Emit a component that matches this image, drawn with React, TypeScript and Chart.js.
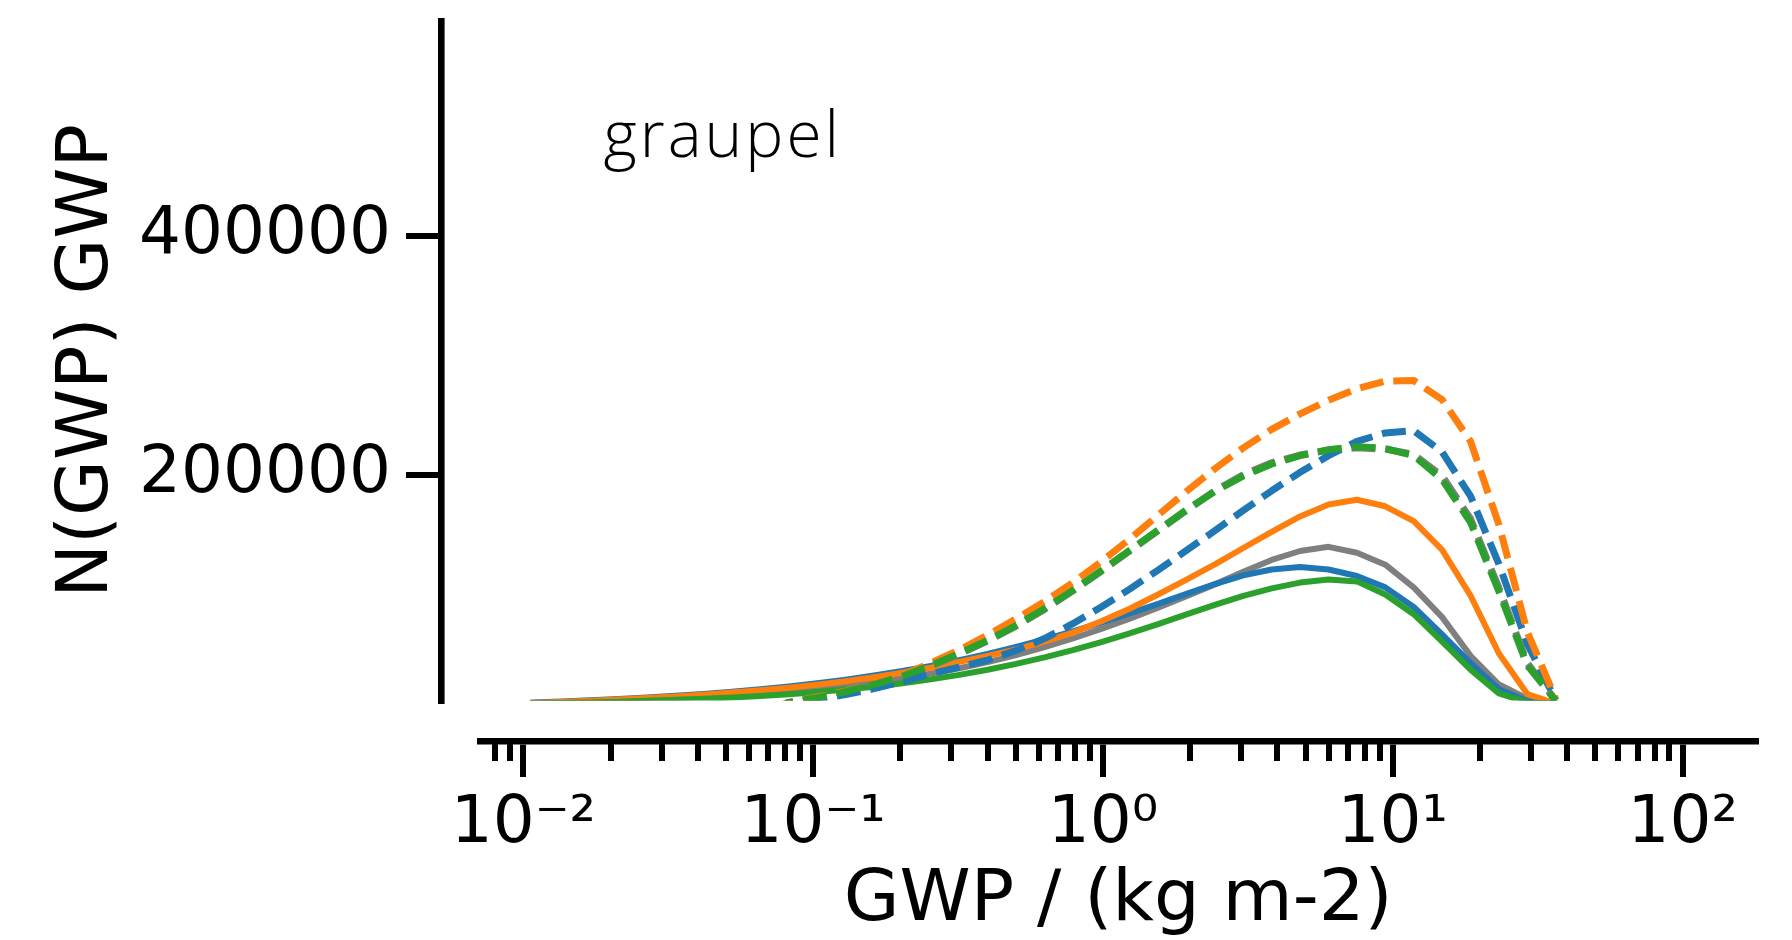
import React, { useEffect, useRef } from 'react';
import { Chart, registerables } from 'chart.js';

Chart.register(...registerables);

// GWP bin centres (kg m-2)
const gwp = [
  0.01081, 0.01355, 0.01698, 0.02128, 0.02667, 0.03342, 0.04188, 0.05248, 0.06577, 0.08241,
  0.1033, 0.1294, 0.1622, 0.2032, 0.2547, 0.3192, 0.3999, 0.5012, 0.6281, 0.787,
  0.9863, 1.236, 1.549, 1.941, 2.432, 3.048, 3.819, 4.786, 5.998, 7.516,
  9.419, 11.8, 14.79, 18.54, 23.23, 29.11, 36.48,
];

// N(GWP) GWP, solid lines
const solidGray = [
  8500, 9200, 9900, 10700, 11600, 12600, 13700, 15000, 16500, 18300,
  20400, 22900, 25800, 29200, 33100, 37600, 42800, 48700, 55300, 62600,
  70600, 79300, 88500, 98000, 108000, 118500, 128500, 136000, 139500, 134500,
  124500, 105500, 80500, 48000, 24000, 12000, 8000,
];
const solidBlue = [
  8800, 9800, 10800, 11900, 13100, 14500, 16100, 17900, 20000, 22400,
  25100, 28100, 31500, 35300, 39600, 44400, 49700, 55500, 61800, 68600,
  75900, 83600, 91700, 100000, 108300, 115500, 120500, 122500, 120500, 115000,
  105500, 89000, 66000, 42000, 20000, 10000, 8000,
];
const solidOrange = [
  8500, 9400, 10400, 11500, 12700, 14000, 15500, 17200, 19100, 21300,
  23800, 26700, 30000, 33800, 38100, 43000, 48000, 53500, 60000, 67500,
  77000, 87500, 99500, 112000, 124800, 138500, 152000, 165000, 175000, 179000,
  173500, 161000, 137000, 98500, 50000, 16000, 8000,
];
const solidGreen = [
  8000, 8500, 9000, 9600, 10300, 11100, 12000, 13100, 14400, 15900,
  17700, 19800, 22200, 25000, 28300, 32100, 36400, 41300, 46800, 52900,
  59600, 66900, 74700, 82800, 90800, 98300, 104600, 109500, 112000, 110500,
  99500, 83000, 60000, 36500, 16500, 9000, 8000,
];

// N(GWP) GWP, dashed lines
const dashedGray = [
  0, 0, 0, 0, 0, 0, 0, 0, 0, 9000,
  12500, 17500, 23500, 30500, 39500, 49500, 60500, 73000, 87000, 102500,
  119000, 136000, 153000, 170000, 186500, 200000, 210000, 216500, 220500, 222500,
  221500, 217000, 199000, 163000, 105000, 42000, 10500,
];
const dashedBlue = [
  0, 0, 0, 0, 0, 0, 0, 0, 0, 8500,
  11500, 15500, 20500, 26500, 33000, 38500, 44500, 52500, 62500, 75000,
  89000, 104000, 120000, 136500, 153000, 170000, 186500, 202000, 216000, 228000,
  235000, 237000, 219000, 182000, 125000, 58000, 11000,
];
const dashedOrange = [
  0, 0, 0, 0, 0, 0, 0, 0, 0, 9000,
  13500, 18500, 24500, 32000, 42000, 53000, 65500, 79000, 93500, 109500,
  127000, 146000, 166000, 186000, 205000, 222500, 238000, 251000, 262500, 272000,
  278500, 279000, 263000, 228000, 158000, 68000, 12000,
];
const dashedGreen = [
  0, 0, 0, 0, 0, 0, 0, 0, 0, 9000,
  13000, 18000, 24000, 31000, 40000, 50000, 61000, 73500, 87500, 103000,
  119500, 136500, 153500, 170500, 186000, 199000, 209000, 216000, 221000, 223500,
  222000, 216000, 196000, 160000, 102000, 40000, 10500,
];

const yTickValues = [200000, 400000];
const yTickLabels = ['200000', '400000'];
const xMajorTickValues = [0.01, 0.1, 1, 10, 100];
const xTickLabels = ['10\u207B\u00B2', '10\u207B\u00B9', '10\u2070', '10\u00B9', '10\u00B2'];
const xMinorTickValues = [
  0.008, 0.009,
  0.02, 0.03, 0.04, 0.05, 0.06, 0.07, 0.08, 0.09,
  0.2, 0.3, 0.4, 0.5, 0.6, 0.7, 0.8, 0.9,
  2, 3, 4, 5, 6, 7, 8, 9,
  20, 30, 40, 50, 60, 70, 80, 90,
];

const X_TITLE = 'GWP / (kg m-2)';
const Y_TITLE = 'N(GWP) GWP';
const PANEL_LABEL = 'graupel';

// axis ranges
const X_MIN = 0.007117;
const X_MAX = 178.9;
const Y_MIN = 10490;
const Y_MAX = 580270;

// layout
const W = 1792;
const H = 940;
const AREA = { left: 480.5, right: 1755.9, top: 21.4, bottom: 700.6 };
const SPINE_OFFSET_X = 39.5; // y spine left of plot area
const SPINE_OFFSET_Y = 40.4; // x spine below plot area
const Y_LABEL_RIGHT = 391;

const COLORS = {
  gray: '#7f7f7f',
  blue: '#1f77b4',
  orange: '#ff7f0e',
  green: '#2ca02c',
};

const FONT = '"DejaVu Sans", sans-serif';

const noPad = (scale: any) => {
  scale.paddingTop = 0;
  scale.paddingBottom = 0;
  scale.paddingLeft = 0;
  scale.paddingRight = 0;
};

export default function App() {
  const canvasRef = useRef<HTMLCanvasElement | null>(null);

  useEffect(() => {
    const canvas = canvasRef.current;
    if (!canvas) return;

    const plotW = AREA.right - AREA.left;
    const plotH = AREA.bottom - AREA.top;
    const pxPerDecade = plotW / (Math.log10(X_MAX) - Math.log10(X_MIN));
    const yAxisAtX = Math.pow(10, Math.log10(X_MIN) - SPINE_OFFSET_X / pxPerDecade);
    const xAxisAtY = Y_MIN - SPINE_OFFSET_Y * (Y_MAX - Y_MIN) / plotH;

    const pts = (ys: number[]) => gwp.map((x, i) => ({ x, y: ys[i] }));

    const mk = (label: string, ys: number[], color: string, dashed: boolean) => ({
      label,
      data: pts(ys),
      borderColor: color,
      backgroundColor: color,
      borderWidth: dashed ? 7 : 6,
      borderDash: dashed ? [24, 10] : [],
      borderCapStyle: dashed ? 'butt' : 'square',
      borderJoinStyle: 'round',
      pointRadius: 0,
      pointHoverRadius: 0,
      tension: 0,
      fill: false,
      clip: 0,
    });

    const textPlugin = {
      id: 'panelText',
      afterDraw(chart: any) {
        const ctx = chart.ctx as CanvasRenderingContext2D;
        const ca = chart.chartArea;
        ctx.save();
        ctx.fillStyle = '#000';
        // x title
        ctx.font = `72px ${FONT}`;
        ctx.textAlign = 'center';
        ctx.textBaseline = 'alphabetic';
        ctx.fillText(X_TITLE, (ca.left + ca.right) / 2, 920);
        // y title
        ctx.save();
        ctx.translate(88, (ca.top + ca.bottom) / 2);
        ctx.rotate(-Math.PI / 2);
        ctx.textBaseline = 'middle';
        ctx.fillText(Y_TITLE, 0, 0);
        ctx.restore();
        // panel label
        ctx.font = `300 64px "Open Sans", Lato, sans-serif`;
        (ctx as any).letterSpacing = '3px';
        ctx.textAlign = 'left';
        ctx.textBaseline = 'alphabetic';
        ctx.fillText(PANEL_LABEL, 603.5, 157);
        ctx.restore();
      },
    };

    const tickGrid = (len: number) => ({
      drawOnChartArea: false,
      drawTicks: true,
      tickLength: len,
      tickWidth: 6,
      lineWidth: 6,
      color: '#000',
      tickColor: '#000',
    });

    const chart = new Chart(canvas, {
      type: 'line',
      data: {
        datasets: [
          mk('green dashed', dashedGreen, COLORS.green, true),
          mk('orange dashed', dashedOrange, COLORS.orange, true),
          mk('blue dashed', dashedBlue, COLORS.blue, true),
          mk('gray dashed', dashedGray, COLORS.gray, true),
          mk('green', solidGreen, COLORS.green, false),
          mk('orange', solidOrange, COLORS.orange, false),
          mk('blue', solidBlue, COLORS.blue, false),
          mk('gray', solidGray, COLORS.gray, false),
        ] as any,
      },
      options: {
        animation: false,
        responsive: false,
        maintainAspectRatio: false,
        devicePixelRatio: 1,
        events: [],
        layout: {
          autoPadding: false,
          padding: {
            left: 0,
            right: W - AREA.right,
            top: AREA.top,
            bottom: H - AREA.bottom,
          },
        },
        plugins: {
          legend: { display: false },
          tooltip: { enabled: false },
          title: { display: false },
        },
        scales: {
          x: {
            type: 'logarithmic',
            axis: 'x',
            min: X_MIN,
            max: X_MAX,
            position: { y: xAxisAtY } as any,
            afterBuildTicks: (scale: any) => {
              scale.ticks = xMajorTickValues.map((v) => ({ value: v }));
            },
            afterFit: noPad,
            ticks: {
              autoSkip: false,
              maxRotation: 0,
              minRotation: 0,
              padding: 12,
              color: '#000',
              font: { family: FONT, size: 66 },
              callback: (_v: any, i: number) => xTickLabels[i],
            },
            grid: tickGrid(32.4),
            border: { display: true, color: '#000', width: 6.6 },
          },
          xMinor: {
            type: 'logarithmic',
            axis: 'x',
            min: X_MIN,
            max: X_MAX,
            position: { y: xAxisAtY } as any,
            afterBuildTicks: (scale: any) => {
              scale.ticks = xMinorTickValues.map((v) => ({ value: v }));
            },
            afterFit: noPad,
            ticks: { display: false, autoSkip: false },
            grid: tickGrid(20),
            border: { display: false },
          },
          y: {
            type: 'linear',
            axis: 'y',
            min: Y_MIN,
            max: Y_MAX,
            position: { x: yAxisAtX } as any,
            afterBuildTicks: (scale: any) => {
              scale.ticks = yTickValues.map((v) => ({ value: v }));
            },
            afterFit: noPad,
            ticks: { display: false, autoSkip: false },
            grid: tickGrid(32),
            border: { display: true, color: '#000', width: 6.6 },
          },
          yLabels: {
            type: 'linear',
            axis: 'y',
            position: 'left',
            min: Y_MIN,
            max: Y_MAX,
            afterBuildTicks: (scale: any) => {
              scale.ticks = yTickValues.map((v) => ({ value: v }));
            },
            afterFit: (scale: any) => {
              noPad(scale);
              scale.width = AREA.left;
            },
            ticks: {
              autoSkip: false,
              padding: AREA.left - Y_LABEL_RIGHT,
              color: '#000',
              font: { family: FONT, size: 66 },
              callback: (_v: any, i: number) => yTickLabels[i],
            },
            grid: { display: false, drawTicks: false, tickLength: 0, drawOnChartArea: false },
            border: { display: false },
          },
        },
      } as any,
      plugins: [textPlugin],
    });

    return () => {
      chart.destroy();
    };
  }, []);

  return (
    <div style={{ position: 'absolute', left: 0, top: 0, width: W, height: H, background: '#fff' }}>
      <canvas ref={canvasRef} width={W} height={H} style={{ display: 'block', width: W, height: H }} />
    </div>
  );
}
